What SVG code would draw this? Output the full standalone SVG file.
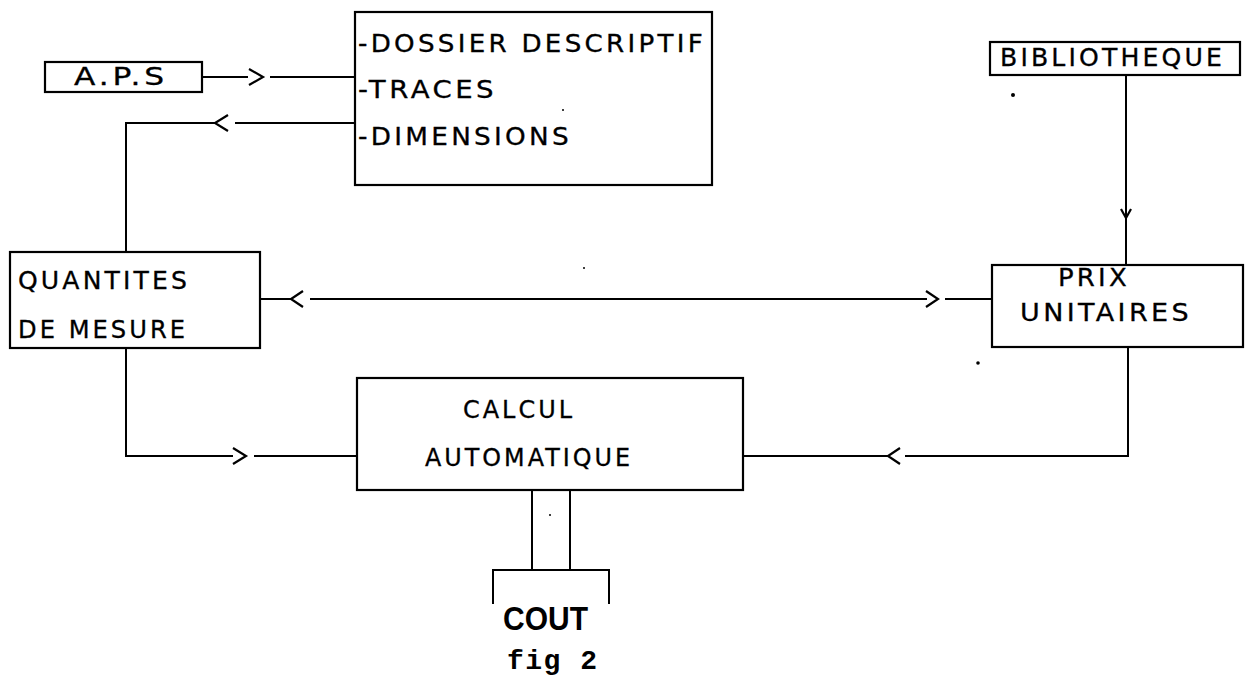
<svg xmlns="http://www.w3.org/2000/svg" width="1248" height="676" viewBox="0 0 1248 676">
<style>
  .box { fill: none; stroke: #000; stroke-width: 2.2; }
  .ln { fill: none; stroke: #000; stroke-width: 2; stroke-linecap: square; }
  .ch { fill: none; stroke: #000; stroke-width: 2.2; stroke-linejoin: miter; }
  .t { font-family: "DejaVu Sans", "Liberation Sans", sans-serif; font-size: 24px; letter-spacing: 3px; fill: #000; stroke: #000; stroke-width: 0.3; }
  .cout { font-family: "Liberation Sans", Arial, sans-serif; font-weight: bold; font-size: 33px; fill: #000; }
  .fig { font-family: "Liberation Mono", "Courier New", monospace; font-weight: bold; font-size: 28px; fill: #000; }
  .dot { fill: #000; }
</style>
<rect width="1248" height="676" fill="#fff"/>

<g id="connectors">
  <!-- APS -> dossier -->
  <line class="ln" x1="202" y1="77" x2="247" y2="77"/>
  <polyline class="ch" points="249,69 263,77 249,85"/>
  <line class="ln" x1="271" y1="77" x2="355" y2="77"/>
  <!-- dossier -> quantites -->
  <line class="ln" x1="355" y1="123" x2="236" y2="123"/>
  <polyline class="ch" points="228,115 215,123 228,131"/>
  <polyline class="ln" points="215,123 126,123 126,252"/>
  <!-- quantites <-> prix -->
  <line class="ln" x1="260" y1="299" x2="291" y2="299"/>
  <polyline class="ch" points="303,291 291,299 303,307"/>
  <line class="ln" x1="311" y1="299" x2="926" y2="299"/>
  <polyline class="ch" points="926,291 938,299 926,307"/>
  <line class="ln" x1="946" y1="299" x2="992" y2="299"/>
  <!-- biblio -> prix -->
  <line class="ln" x1="1126" y1="75" x2="1126" y2="265"/>
  <polyline class="ch" points="1121,209 1126,218 1131,209"/>
  <!-- quantites -> calcul -->
  <polyline class="ln" points="126,348 126,456 232,456"/>
  <polyline class="ch" points="233,448 246,456 233,464"/>
  <line class="ln" x1="255" y1="456" x2="357" y2="456"/>
  <!-- prix -> calcul -->
  <polyline class="ln" points="1128,347 1128,456 906,456"/>
  <polyline class="ch" points="900,448 888,456 900,464"/>
  <line class="ln" x1="888" y1="456" x2="743" y2="456"/>
  <!-- calcul -> cout -->
  <line class="ln" x1="532" y1="490" x2="532" y2="570"/>
  <line class="ln" x1="570" y1="490" x2="570" y2="570"/>
</g>

<g id="aps">
  <rect class="box" x="45" y="62" width="157" height="30"/>
  <text class="t" x="74" y="85" textLength="94" lengthAdjust="spacingAndGlyphs">A.P.S</text>
</g>

<g id="dossier">
  <rect class="box" x="355" y="12" width="357" height="173"/>
  <text class="t" x="358" y="52" textLength="348" lengthAdjust="spacingAndGlyphs">-DOSSIER DESCRIPTIF</text>
  <text class="t" x="358" y="98" textLength="139" lengthAdjust="spacingAndGlyphs">-TRACES</text>
  <text class="t" x="358" y="145" textLength="214" lengthAdjust="spacingAndGlyphs">-DIMENSIONS</text>
</g>

<g id="bibliotheque">
  <rect class="box" x="990" y="42" width="250" height="33"/>
  <text class="t" x="1000" y="66" textLength="225" lengthAdjust="spacingAndGlyphs">BIBLIOTHEQUE</text>
</g>

<g id="quantites">
  <rect class="box" x="10" y="252" width="250" height="96"/>
  <text class="t" x="18" y="289" textLength="172" lengthAdjust="spacingAndGlyphs">QUANTITES</text>
  <text class="t" x="18" y="338" textLength="170" lengthAdjust="spacingAndGlyphs">DE MESURE</text>
</g>

<g id="prix">
  <rect class="box" x="992" y="265" width="251" height="82"/>
  <text class="t" x="1058" y="286" textLength="72" lengthAdjust="spacingAndGlyphs">PRIX</text>
  <text class="t" x="1020" y="321" textLength="172" lengthAdjust="spacingAndGlyphs">UNITAIRES</text>
</g>

<g id="calcul">
  <rect class="box" x="357" y="378" width="386" height="112"/>
  <text class="t" x="463" y="418" textLength="112" lengthAdjust="spacingAndGlyphs">CALCUL</text>
  <text class="t" x="425" y="466" textLength="208" lengthAdjust="spacingAndGlyphs">AUTOMATIQUE</text>
</g>

<g id="cout">
  <polyline class="ln" points="493,603 493,570 609,570 609,603"/>
  <text class="cout" x="503" y="630" textLength="85" lengthAdjust="spacingAndGlyphs">COUT</text>
</g>

<g id="caption">
  <text class="fig" x="507" y="669" textLength="90" lengthAdjust="spacing">fig 2</text>
</g>

<g id="specks">
  <circle class="dot" cx="1013" cy="95" r="2"/>
  <circle class="dot" cx="563" cy="110" r="1"/>
  <circle class="dot" cx="584" cy="268" r="1"/>
  <circle class="dot" cx="978" cy="363" r="1.8"/>
  <circle class="dot" cx="550" cy="515" r="1"/>
</g>
</svg>
